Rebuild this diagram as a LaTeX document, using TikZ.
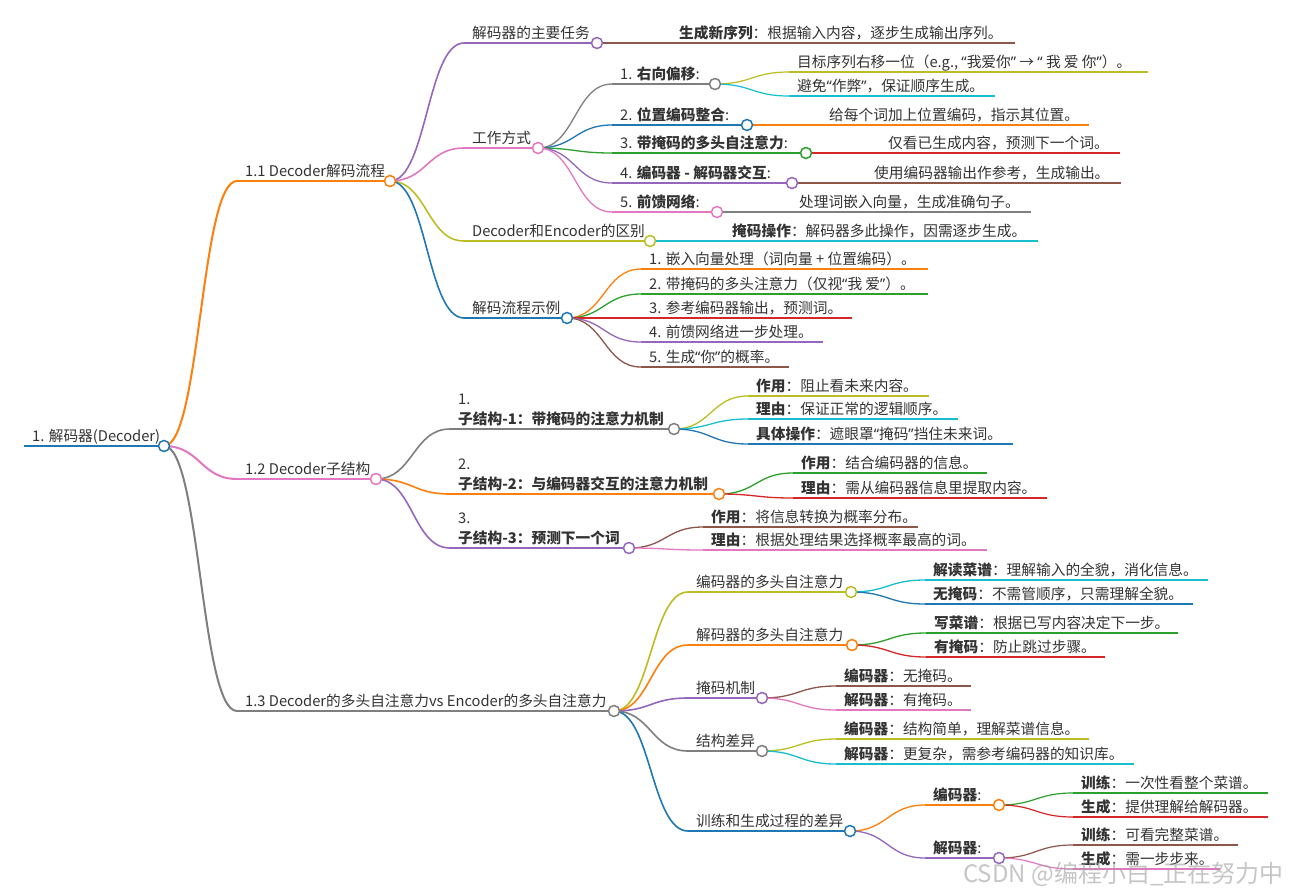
\documentclass[tikz,border=0pt]{standalone}
\usepackage{fontspec}
\setmainfont{Noto Sans CJK SC}
\newfontfamily\qf{Noto Sans}
\newcommand\ql{{\qf “}}
\newcommand\qr{{\qf ”}}
\usetikzlibrary{calc}
\pgfdeclarelayer{bg}
\pgfsetlayers{bg,main}
\definecolor{mblue}{HTML}{1F77B4}
\definecolor{morange}{HTML}{FF7F0E}
\definecolor{mgreen}{HTML}{2CA02C}
\definecolor{mred}{HTML}{D62728}
\definecolor{mpurple}{HTML}{9467BD}
\definecolor{mbrown}{HTML}{8C564B}
\definecolor{mpink}{HTML}{E377C2}
\definecolor{mgray}{HTML}{7F7F7F}
\definecolor{molive}{HTML}{BCBD22}
\definecolor{mcyan}{HTML}{17BECF}
\definecolor{txtc}{HTML}{333333}
\definecolor{wmc}{HTML}{A0A0A0}
\tikzset{
  txt/.style={anchor=base west, inner sep=0pt, text=txtc, font=\fontsize{14.7}{19.5}\selectfont},
  dotnode/.style={circle, fill=white, line width=1.5pt, minimum size=11pt, inner sep=0pt},
  wmark/.style={anchor=base west, inner sep=0pt, text=wmc, opacity=0.6, font=\fontsize{24}{24}\selectfont},
}
\newcommand\mmlink[4]{\draw[#3, line width=#4] let \p1=(#1.center), \p2=(#2) in (\p1) .. controls ({(\x1+\x2)/2},\y1) and ({(\x1+\x2)/2},\y2) .. (\p2);}
\newcommand\mm[8]{%
  \coordinate (#1-s) at (#3,#4);
  \coordinate (#1-e) at (#5,#4);
  \begin{pgfonlayer}{bg}
    \draw[#6, line width=#7] (#1-s) -- (#1-e);
    \mmlink{#2}{#1-s}{#6}{#7}
  \end{pgfonlayer}
  \node[txt] (#1-t) at ({#3+8},{#4-5}) {#8};
}
\newcommand\mmdot[2]{\node[dotnode, draw=#2] (#1) at (#1-e) {};}
\newcommand\twoline[2]{\vbox{\baselineskip=19.5pt\hbox{#1}\hbox{\bfseries #2}}}
\begin{document}
\begin{tikzpicture}[x=1pt,y=-1pt]
\useasboundingbox (0,0) rectangle (1294,895);
\begin{pgfonlayer}{bg}
\fill[white] (0,0) rectangle (1294,895);
\end{pgfonlayer}
% root
\coordinate (r-s) at (24,446);
\coordinate (r-e) at (164,446);
\begin{pgfonlayer}{bg}
\draw[mblue, line width=2.2pt] (r-s) -- (r-e);
\end{pgfonlayer}
\node[txt] (r-t) at (32,441) {1. 解码器(Decoder)};
\mmdot{r}{mblue}
% level 1
\mm{a}{r}{237}{181}{390}{morange}{2pt}{1.1 Decoder解码流程}\mmdot{a}{morange}
\mm{b}{r}{237}{479}{376}{mpink}{2pt}{1.2 Decoder子结构}\mmdot{b}{mpink}
\mm{c}{r}{237}{711}{614}{mgray}{2pt}{1.3 Decoder的多头自注意力vs Encoder的多头自注意力}\mmdot{c}{mgray}
% under 1.1
\mm{a1}{a}{464}{43}{597}{mpurple}{1.6pt}{解码器的主要任务}\mmdot{a1}{mpurple}
\mm{a2}{a}{464}{148}{538}{mpink}{1.6pt}{工作方式}\mmdot{a2}{mpink}
\mm{a3}{a}{464}{241}{650}{molive}{1.6pt}{Decoder和Encoder的区别}\mmdot{a3}{molive}
\mm{a4}{a}{464}{318}{567}{mblue}{1.6pt}{解码流程示例}\mmdot{a4}{mblue}
\mm{a1a}{a1}{671}{43}{1015}{mbrown}{1.3pt}{\textbf{生成新序列}：根据输入内容，逐步生成输出序列。}
\mm{a2a}{a2}{612}{84}{715}{mgray}{1.3pt}{1. \textbf{右向偏移}:}\mmdot{a2a}{mgray}
\mm{a2b}{a2}{612}{125}{747}{mblue}{1.3pt}{2. \textbf{位置编码整合}:}\mmdot{a2b}{mblue}
\mm{a2c}{a2}{612}{153}{806}{mgreen}{1.3pt}{3. \textbf{带掩码的多头自注意力}:}\mmdot{a2c}{mgreen}
\mm{a2d}{a2}{612}{183}{792}{mpurple}{1.3pt}{4. \textbf{编码器 - 解码器交互}:}\mmdot{a2d}{mpurple}
\mm{a2e}{a2}{612}{212}{717}{mpink}{1.3pt}{5. \textbf{前馈网络}:}\mmdot{a2e}{mpink}
\mm{a2a1}{a2a}{789}{72}{1148}{molive}{1.2pt}{目标序列右移一位（e.g., \ql 我爱你\qr{} → \ql{} 我 爱 你\qr）。}
\mm{a2a2}{a2a}{789}{96}{995}{mcyan}{1.2pt}{避免\ql 作弊\qr，保证顺序生成。}
\mm{a2b1}{a2b}{821}{125}{1089}{morange}{1.2pt}{给每个词加上位置编码，指示其位置。}
\mm{a2c1}{a2c}{880}{153}{1120}{mred}{1.2pt}{仅看已生成内容，预测下一个词。}
\mm{a2d1}{a2d}{866}{183}{1121}{mbrown}{1.2pt}{使用编码器输出作参考，生成输出。}
\mm{a2e1}{a2e}{791}{212}{1031}{mgray}{1.2pt}{处理词嵌入向量，生成准确句子。}
\mm{a3a}{a3}{724}{241}{1038}{mcyan}{1.3pt}{\textbf{掩码操作}：解码器多此操作，因需逐步生成。}
\mm{a4a}{a4}{641}{269}{928}{morange}{1.3pt}{1. 嵌入向量处理（词向量 + 位置编码）。}
\mm{a4b}{a4}{641}{294}{928}{mgreen}{1.3pt}{2. 带掩码的多头注意力（仅视\ql 我 爱\qr）。}
\mm{a4c}{a4}{641}{318}{852}{mred}{1.3pt}{3. 参考编码器输出，预测词。}
\mm{a4d}{a4}{641}{342}{823}{mpurple}{1.3pt}{4. 前馈网络进一步处理。}
\mm{a4e}{a4}{641}{367}{789}{mbrown}{1.3pt}{5. 生成\ql 你\qr 的概率。}
% under 1.2
\mm{b1}{b}{450}{429}{674}{mgray}{1.6pt}{\twoline{1.}{子结构-1：带掩码的注意力机制}}\mmdot{b1}{mgray}
\mm{b2}{b}{450}{494}{719}{morange}{1.6pt}{\twoline{2.}{子结构-2：与编码器交互的注意力机制}}\mmdot{b2}{morange}
\mm{b3}{b}{450}{548}{629}{mpurple}{1.6pt}{\twoline{3.}{子结构-3：预测下一个词}}\mmdot{b3}{mpurple}
\mm{b1a}{b1}{748}{396}{929}{molive}{1.3pt}{\textbf{作用}：阻止看未来内容。}
\mm{b1b}{b1}{748}{419}{958}{mcyan}{1.3pt}{\textbf{理由}：保证正常的逻辑顺序。}
\mm{b1c}{b1}{748}{444}{1013}{mblue}{1.3pt}{\textbf{具体操作}：遮眼罩\ql 掩码\qr 挡住未来词。}
\mm{b2a}{b2}{793}{473}{987}{mgreen}{1.3pt}{\textbf{作用}：结合编码器的信息。}
\mm{b2b}{b2}{793}{498}{1047}{mred}{1.3pt}{\textbf{理由}：需从编码器信息里提取内容。}
\mm{b3a}{b3}{703}{527}{918}{mbrown}{1.3pt}{\textbf{作用}：将信息转换为概率分布。}
\mm{b3b}{b3}{703}{550}{987}{mpink}{1.3pt}{\textbf{理由}：根据处理结果选择概率最高的词。}
% under 1.3
\mm{c1}{c}{688}{592}{851}{molive}{1.6pt}{编码器的多头自注意力}\mmdot{c1}{molive}
\mm{c2}{c}{688}{645}{852}{morange}{1.6pt}{解码器的多头自注意力}\mmdot{c2}{morange}
\mm{c3}{c}{688}{698}{762}{mpurple}{1.6pt}{掩码机制}\mmdot{c3}{mpurple}
\mm{c4}{c}{688}{751}{762}{mgray}{1.6pt}{结构差异}\mmdot{c4}{mgray}
\mm{c5}{c}{688}{831}{850}{mblue}{1.6pt}{训练和生成过程的差异}\mmdot{c5}{mblue}
\mm{c1a}{c1}{925}{580}{1208}{mcyan}{1.3pt}{\textbf{解读菜谱}：理解输入的全貌，消化信息。}
\mm{c1b}{c1}{925}{604}{1193}{mblue}{1.3pt}{\textbf{无掩码}：不需管顺序，只需理解全貌。}
\mm{c2a}{c2}{926}{633}{1178}{mgreen}{1.3pt}{\textbf{写菜谱}：根据已写内容决定下一步。}
\mm{c2b}{c2}{926}{657}{1105}{mred}{1.3pt}{\textbf{有掩码}：防止跳过步骤。}
\mm{c3a}{c3}{836}{686}{971}{mbrown}{1.3pt}{\textbf{编码器}：无掩码。}
\mm{c3b}{c3}{836}{710}{971}{mpink}{1.3pt}{\textbf{解码器}：有掩码。}
\mm{c4a}{c4}{836}{739}{1089}{molive}{1.3pt}{\textbf{编码器}：结构简单，理解菜谱信息。}
\mm{c4b}{c4}{836}{764}{1134}{mcyan}{1.3pt}{\textbf{解码器}：更复杂，需参考编码器的知识库。}
\mm{c5a}{c5}{925}{805}{999}{morange}{1.3pt}{\textbf{编码器}:}\mmdot{c5a}{morange}
\mm{c5b}{c5}{925}{858}{999}{mpurple}{1.3pt}{\textbf{解码器}:}\mmdot{c5b}{mpurple}
\mm{c5a1}{c5a}{1073}{793}{1268}{mgreen}{1.2pt}{\textbf{训练}：一次性看整个菜谱。}
\mm{c5a2}{c5a}{1073}{817}{1268}{mred}{1.2pt}{\textbf{生成}：提供理解给解码器。}
\mm{c5b1}{c5b}{1073}{845}{1238}{mbrown}{1.2pt}{\textbf{训练}：可看完整菜谱。}
\mm{c5b2}{c5b}{1073}{869}{1220}{mpink}{1.2pt}{\textbf{生成}：需一步步来。}
% watermark
\node[wmark] (wm) at (963,882) {CSDN @编程小白\_正在努力中};
\end{tikzpicture}
\end{document}
